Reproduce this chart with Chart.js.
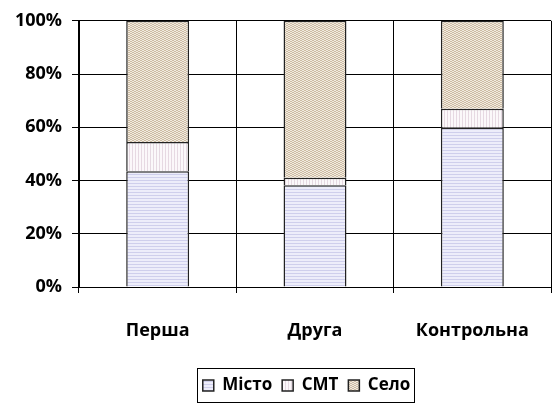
<!DOCTYPE html>
<html>
<head>
<meta charset="utf-8">
<script src="https://cdn.jsdelivr.net/npm/chart.js@4.4.0/dist/chart.umd.min.js"></script>
<style>
html,body{margin:0;padding:0;background:#fff;}
#wrap{width:552px;height:407px;position:relative;}
</style>
</head>
<body>
<div id="wrap"><canvas id="c" width="552" height="407"></canvas></div>
<script>
const categories = ['Перша', 'Друга', 'Контрольна'];
const seriesNames = ['Місто', 'СМТ', 'Село'];
const misto = [43.5, 38.2, 59.8];
const smt = [11, 2.8, 7.2];
const selo = [45.5, 59, 33];
const yTicks = [0, 20, 40, 60, 80, 100];

function makePattern(kind) {
  const c = document.createElement('canvas');
  const ctx = c.getContext('2d');
  if (kind === 0) {
    c.width = 4; c.height = 3;
    ctx.fillStyle = '#ededfa'; ctx.fillRect(0, 0, 4, 3);
    ctx.fillStyle = '#cfcfec'; ctx.fillRect(0, 0, 4, 1);
  } else if (kind === 1) {
    c.width = 3; c.height = 4;
    ctx.fillStyle = '#fbf8fa'; ctx.fillRect(0, 0, 3, 4);
    ctx.fillStyle = '#e6d9e2'; ctx.fillRect(0, 0, 1, 4);
  } else {
    c.width = 4; c.height = 4;
    ctx.fillStyle = '#f1eae0'; ctx.fillRect(0, 0, 4, 4);
    ctx.fillStyle = '#cdbca3';
    ctx.fillRect(0, 0, 2, 1); ctx.fillRect(2, 1, 2, 1);
    ctx.fillRect(0, 2, 2, 1); ctx.fillRect(2, 3, 2, 1);
  }
  return ctx.createPattern(c, 'repeat');
}

const FONT = "'Open Sans', sans-serif";
const seriesValues = [misto, smt, selo];
const datasets = seriesNames.map((n, i) => ({
  label: n,
  data: seriesValues[i],
  backgroundColor: makePattern(i),
  borderColor: '#222',
  borderWidth: 1.5,
  categoryPercentage: 1,
  barPercentage: 0.4
}));

const LEGEND_SHIFT = 31;
const legendBox = {
  id: 'legendBox',
  beforeDraw(chart) {
    const lg = chart.legend;
    if (!lg._shifted) {
      lg.left += LEGEND_SHIFT; lg.right += LEGEND_SHIFT;
      lg.legendHitBoxes.forEach(h => { h.left += LEGEND_SHIFT; });
      lg._shifted = true;
    }
  },
  afterDraw(chart) {
    const hb = chart.legend.legendHitBoxes;
    if (!hb || !hb.length) return;
    const first = hb[0], last = hb[hb.length - 1];
    const x1 = first.left - 6, x2 = last.left + last.width + 4;
    const y1 = first.top - 9, y2 = first.top + first.height + 8;
    const ctx = chart.ctx;
    ctx.save();
    ctx.strokeStyle = '#000';
    ctx.lineWidth = 1;
    ctx.strokeRect(Math.round(x1) + 0.5, Math.round(y1) + 0.5, Math.round(x2 - x1), Math.round(y2 - y1));
    ctx.restore();
  }
};

new Chart(document.getElementById('c'), {
  type: 'bar',
  data: { labels: categories, datasets },
  options: {
    responsive: false,
    animation: false,
    devicePixelRatio: 1,
    layout: { padding: { top: 19, right: 1, bottom: 3, left: 0 } },
    plugins: {
      tooltip: { enabled: false },
      legend: {
        position: 'bottom',
        labels: {
          color: '#000',
          font: { family: FONT, size: 17, weight: 'bold' },
          boxWidth: 11, boxHeight: 11,
          padding: 10
        }
      }
    },
    scales: {
      x: {
        stacked: true,
        grid: {
          offset: true,
          color: (ctx) => ctx.index === 3 ? 'rgba(0,0,0,0)' : '#000',
          lineWidth: 1,
          tickLength: 6,
          drawTicks: true
        },
        border: { color: '#000', width: 1 },
        ticks: { color: '#000', font: { family: FONT, size: 18, weight: 'bold' }, padding: 27, maxRotation: 0 },
        afterFit(s) { s.height = 80; s.paddingLeft = 0; s.paddingRight = 0; }
      },
      y: {
        stacked: true,
        min: 0, max: 100,
        afterBuildTicks(s) { s.ticks = yTicks.map(v => ({ value: v })); },
        grid: { color: '#000', lineWidth: 1, tickLength: 7 },
        border: { color: '#000', width: 1 },
        ticks: { color: '#000', font: { family: FONT, size: 18, weight: 'bold' }, padding: 10, callback: (v) => v + '%' },
        afterFit(s) { s.width = 79; }
      }
    }
  },
  plugins: [legendBox]
});
</script>
</body>
</html>
